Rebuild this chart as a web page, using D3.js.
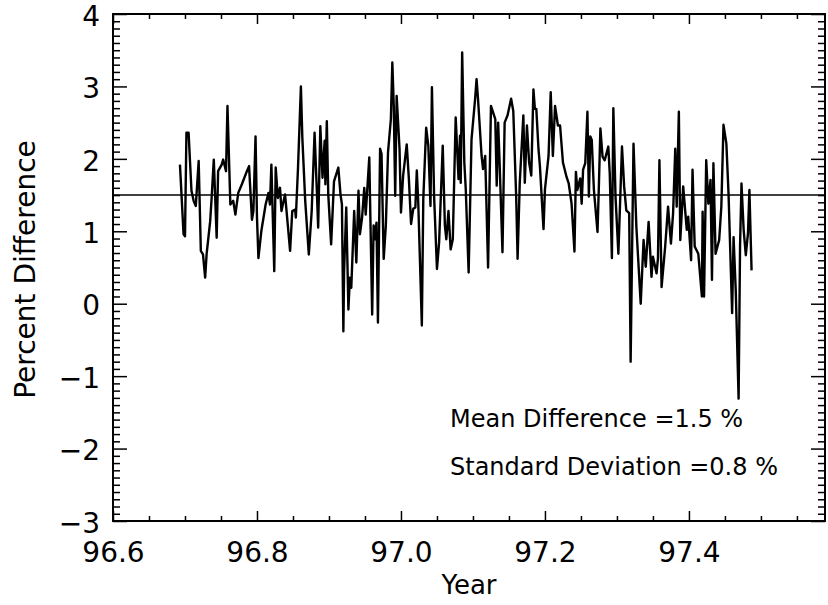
<!DOCTYPE html>
<html>
<head>
<meta charset="utf-8">
<script src="https://cdn.jsdelivr.net/npm/d3@7/dist/d3.min.js"></script>
<style>
  html, body { margin: 0; padding: 0; background: #fff; }
  svg { display: block; }
  text { font-family: "DejaVu Sans", sans-serif; fill: #000; }
</style>
</head>
<body>
<svg id="chart" width="828" height="605"></svg>
<script>
// ---------- data ----------
const yearsA = [96.693,96.698,96.700,96.702,96.705,96.709,96.712,96.715,96.719,96.722,96.725,96.728,96.730,96.735,96.737,96.740,96.744,96.746,96.751,96.753,96.757,96.759,96.763,96.767,96.770,96.774,96.779,96.786,96.789,96.793,96.795,96.798,96.800,96.802,96.806,96.812,96.816,96.818,96.820,96.824,96.826,96.829,96.832,96.834,96.839,96.846,96.849,96.853,96.854,96.857,96.861,96.863,96.867,96.872,96.876,96.880,96.883,96.885,96.888,96.891,96.894,96.895,96.897,96.899,96.903,96.907,96.913,96.916,96.918,96.920,96.921,96.924,96.927,96.929,96.931,96.935,96.938,96.941,96.943,96.946,96.949,96.951,96.956,96.960];
const diffA = [1.92,0.96,0.93,2.36,2.36,1.56,1.42,1.35,1.97,0.73,0.68,0.36,0.68,1.14,1.46,1.99,0.91,1.83,1.92,1.99,1.83,2.73,1.37,1.42,1.23,1.53,1.65,1.83,1.90,1.16,1.28,2.31,1.19,0.63,1.00,1.37,1.53,1.37,1.92,0.45,1.88,1.46,1.60,1.28,1.51,0.73,1.28,1.30,1.19,1.88,3.00,2.29,1.42,0.68,1.28,2.36,1.60,1.05,2.45,1.74,2.25,1.65,2.52,1.51,0.82,1.69,1.88,1.51,1.37,-0.38,0.45,1.33,-0.08,0.36,0.22,1.28,0.57,1.56,0.96,1.19,1.60,1.23,2.02,-0.15];

const yearsB = [96.962,96.964,96.966,96.968,96.971,96.973,96.976,96.979,96.982,96.986,96.988,96.990,96.992,96.994,96.998,97.000,97.003,97.008,97.011,97.014,97.017,97.020,97.022,97.024,97.029,97.031,97.035,97.038,97.041,97.043,97.046,97.050,97.053,97.058,97.061,97.063,97.066,97.069,97.072,97.076,97.080,97.082,97.083,97.085,97.088,97.090,97.094,97.098,97.103,97.105,97.107,97.112,97.114,97.117,97.121,97.125,97.131,97.133,97.135,97.137,97.141,97.144,97.148,97.153,97.156,97.160,97.162,97.165,97.170,97.172,97.175,97.178,97.181,97.184,97.186,97.188,97.191,97.193,97.198,97.200,97.205,97.208,97.211,97.214,97.218,97.221,97.225];
const diffB = [1.08,0.89,1.12,-0.26,2.14,2.07,0.62,1.08,2.09,2.55,3.33,2.73,1.49,2.87,2.14,1.26,1.77,2.20,1.72,1.10,1.31,1.33,1.84,1.40,-0.30,1.44,2.43,2.18,1.35,2.99,1.49,0.48,0.85,2.18,1.08,0.89,1.28,0.75,0.89,2.57,1.72,2.32,1.67,3.47,1.95,1.58,0.43,2.27,2.83,3.10,2.83,2.04,1.86,2.04,0.50,2.73,2.55,1.63,2.50,1.95,0.71,2.50,2.60,2.83,2.66,1.49,0.62,1.67,2.60,1.67,2.46,1.95,1.77,2.96,2.69,2.69,2.14,1.90,1.03,1.58,2.04,2.92,2.04,2.73,2.46,2.46,1.95];

const yearsC = [97.230,97.233,97.237,97.241,97.243,97.245,97.249,97.251,97.253,97.256,97.259,97.261,97.263,97.265,97.268,97.273,97.275,97.277,97.280,97.283,97.288,97.290,97.293,97.295,97.298,97.302,97.307,97.310,97.313,97.317,97.319,97.323,97.327,97.333,97.337,97.340,97.344,97.348,97.350,97.355,97.357,97.359,97.362,97.367,97.371,97.375,97.378,97.381,97.383,97.386,97.388,97.392,97.397,97.399,97.403,97.405,97.408,97.413,97.418,97.419,97.421,97.424,97.427,97.430,97.432,97.434,97.437,97.442,97.445,97.448,97.452,97.455,97.460,97.462,97.465,97.469,97.471,97.473,97.476,97.479,97.482,97.484,97.487];
const diffC = [1.75,1.66,1.38,0.72,1.82,1.57,1.73,1.38,1.85,1.94,2.65,1.48,2.31,2.26,1.57,0.99,1.66,2.42,2.03,1.98,2.17,1.80,0.63,2.70,1.48,0.69,2.17,1.62,1.29,1.25,-0.80,2.21,1.06,0.00,0.88,0.51,1.13,0.37,0.65,0.42,0.63,1.98,0.23,0.79,1.34,0.83,1.25,2.14,1.34,2.65,0.88,1.62,1.02,1.20,0.60,1.85,0.79,0.69,0.10,1.27,0.10,1.98,1.38,1.71,0.33,1.94,0.69,0.88,1.34,2.47,2.21,1.52,-0.13,0.92,0.19,-1.31,0.79,1.66,1.02,0.67,0.97,1.57,0.46];

const xMajorTicks = [96.6, 96.8, 97.0, 97.2, 97.4];
const yMajorTicks = [-3, -2, -1, 0, 1, 2, 3, 4];
const meanDiff = 1.5;
const stdDev = 0.8;
const xTitle = "Year";
const yTitle = "Percent Difference";

// ---------- layout ----------
const svg = d3.select("#chart");
const L = 113, R = 825, T = 14, B = 521;
const x = d3.scaleLinear().domain([96.6, 97.589]).range([L, R]);
const y = d3.scaleLinear().domain([-3, 4]).range([B, T]);

const years = yearsA.concat(yearsB, yearsC);
const diffs = diffA.concat(diffB, diffC);
const pts = d3.zip(years, diffs);

const xMinor = d3.range(96.6, 97.59, 0.05).map(v => +v.toFixed(2)).filter(v => !xMajorTicks.some(m => Math.abs(m - v) < 1e-6));
const yMinor = d3.range(-3, 4.001, 0.1).map(v => +v.toFixed(1)).filter(v => !yMajorTicks.some(m => Math.abs(m - v) < 1e-6));

function styleAxis(g) {
  g.select(".domain").remove();
  g.selectAll(".tick line").attr("stroke", "#000").attr("stroke-width", 1.5);
}

// bottom
svg.append("g").attr("transform", `translate(0,${B})`)
  .call(d3.axisBottom(x).tickValues(xMajorTicks).tickSize(-10).tickPadding(21).tickFormat(d3.format(".1f")))
  .call(styleAxis)
  .call(g => g.selectAll("text").style("font-size", "28px").style("font-family", "DejaVu Sans"));
svg.append("g").attr("transform", `translate(0,${B})`)
  .call(d3.axisBottom(x).tickValues(xMinor).tickSize(-5).tickFormat(""))
  .call(styleAxis);
// top
svg.append("g").attr("transform", `translate(0,${T})`)
  .call(d3.axisTop(x).tickValues(xMajorTicks).tickSize(-10).tickFormat(""))
  .call(styleAxis);
svg.append("g").attr("transform", `translate(0,${T})`)
  .call(d3.axisTop(x).tickValues(xMinor).tickSize(-5).tickFormat(""))
  .call(styleAxis);
// left
svg.append("g").attr("transform", `translate(${L},0)`)
  .call(d3.axisLeft(y).tickValues(yMajorTicks).tickSize(-14).tickPadding(13).tickFormat(d3.format("d")))
  .call(styleAxis)
  .call(g => g.selectAll("text").style("font-size", "28px").style("font-family", "DejaVu Sans").attr("dy", "0.4em"));
svg.append("g").attr("transform", `translate(${L},0)`)
  .call(d3.axisLeft(y).tickValues(yMinor).tickSize(-7).tickFormat(""))
  .call(styleAxis);
// right
svg.append("g").attr("transform", `translate(${R},0)`)
  .call(d3.axisRight(y).tickValues(yMajorTicks).tickSize(-14).tickFormat(""))
  .call(styleAxis);
svg.append("g").attr("transform", `translate(${R},0)`)
  .call(d3.axisRight(y).tickValues(yMinor).tickSize(-7).tickFormat(""))
  .call(styleAxis);

// frame
svg.append("rect").attr("x", L).attr("y", T).attr("width", R - L).attr("height", B - T)
  .attr("fill", "none").attr("stroke", "#000").attr("stroke-width", 2);

// mean line
svg.append("line").attr("x1", L).attr("x2", R).attr("y1", y(meanDiff)).attr("y2", y(meanDiff))
  .attr("stroke", "#000").attr("stroke-width", 1.5);

// data line
svg.append("path").datum(pts)
  .attr("fill", "none").attr("stroke", "#000").attr("stroke-width", 2.4)
  .attr("stroke-linejoin", "round")
  .attr("d", d3.line().x(d => x(d[0])).y(d => y(d[1])));

// annotations
svg.append("text").attr("x", 450).attr("y", 427).style("font-size", "24px")
  .text(`Mean Difference =${meanDiff.toFixed(1)} %`);
svg.append("text").attr("x", 450).attr("y", 475).style("font-size", "24px")
  .text(`Standard Deviation =${stdDev.toFixed(1)} %`);

// titles
svg.append("text").attr("x", (L + R) / 2).attr("y", 594).attr("text-anchor", "middle")
  .style("font-size", "26px").text(xTitle);
svg.append("text").attr("transform", `translate(35,${(T + B) / 2 + 2}) rotate(-90)`)
  .attr("text-anchor", "middle").style("font-size", "28px").text(yTitle);
</script>
</body>
</html>
